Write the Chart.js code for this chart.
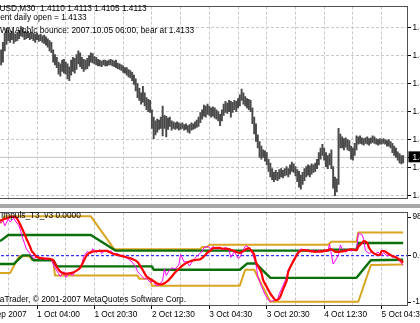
<!DOCTYPE html>
<html>
<head>
<meta charset="utf-8">
<script src="https://cdn.jsdelivr.net/npm/chart.js@4/dist/chart.umd.min.js"></script>
<style>
  body { margin: 0; background: #fff; }
  #wrap { position: absolute; left: 0; top: 0; width: 420px; height: 323px; overflow: hidden; background: #fff; }
  .box { position: absolute; }
  .txt { position: absolute; white-space: pre; font: 8.3px 'Liberation Sans', Arial, sans-serif; line-height: 10px; color: #000; z-index: 5; }
</style>
</head>
<body>
<div id="wrap">
  <div class="box" style="left:-24px; top:0; width:476px; height:206px"><canvas id="priceChart"></canvas></div>
  <div class="box" style="left:0; top:204px; width:420px; height:4px; background:#a8a8a8"></div>
  <div class="box" style="left:-24px; top:206px; width:476px; height:117px"><canvas id="indChart"></canvas></div>

  <div class="txt" style="left:-18px; top:3px">EURUSD,M30  1.4110 1.4113 1.4105 1.4113</div>
  <div class="txt" style="left:-16px; top:12px">Current daily open = 1.4133</div>
  <div class="txt" style="left:0; top:25px">WMA ohlc bounce: 2007.10.05 06:00, bear at 1.4133</div>
  <div class="txt" style="left:1px; top:210px">Impuls_T3_v3 0.0000</div>
  <div class="txt" style="left:-14px; top:294px">MetaTrader, © 2001-2007 MetaQuotes Software Corp.</div>
</div>

<script>
// EURUSD M30, один бар = 30 минут, индекс бара идёт слева направо
const barHigh = [
  1.4226, 1.4234, 1.4244, 1.4249, 1.4247, 1.4244, 1.4246, 1.4244, 1.4243, 1.4245,
  1.4247, 1.4251, 1.4250, 1.4246, 1.4245, 1.4246, 1.4244, 1.4245, 1.4244, 1.4243,
  1.4244, 1.4242, 1.4243, 1.4241, 1.4242, 1.4240, 1.4238, 1.4236, 1.4234, 1.4226,
  1.4221, 1.4218, 1.4213, 1.4211, 1.4215, 1.4216, 1.4213, 1.4211, 1.4208, 1.4215,
  1.4218, 1.4217, 1.4221, 1.4225, 1.4223, 1.4218, 1.4216, 1.4215, 1.4217, 1.4220,
  1.4223, 1.4222, 1.4219, 1.4218, 1.4216, 1.4215, 1.4214, 1.4215, 1.4215, 1.4214,
  1.4215, 1.4216, 1.4215, 1.4214, 1.4215, 1.4212, 1.4211, 1.4210, 1.4209, 1.4207,
  1.4207, 1.4205, 1.4204, 1.4202, 1.4199, 1.4195, 1.4190, 1.4185, 1.4180, 1.4187,
  1.4180, 1.4175, 1.4173, 1.4172, 1.4162, 1.4154, 1.4150, 1.4152, 1.4151, 1.4154,
  1.4166, 1.4156, 1.4155, 1.4153, 1.4154, 1.4150, 1.4149, 1.4148, 1.4149, 1.4148,
  1.4147, 1.4148, 1.4146, 1.4147, 1.4145, 1.4146, 1.4148, 1.4147, 1.4149, 1.4151,
  1.4154, 1.4159, 1.4162, 1.4167, 1.4166, 1.4168, 1.4166, 1.4164, 1.4165, 1.4164,
  1.4162, 1.4160, 1.4157, 1.4162, 1.4168, 1.4171, 1.4169, 1.4172, 1.4171, 1.4170,
  1.4172, 1.4171, 1.4174, 1.4178, 1.4184, 1.4180, 1.4176, 1.4174, 1.4173, 1.4172,
  1.4164, 1.4154, 1.4147, 1.4135, 1.4128, 1.4123, 1.4119, 1.4118, 1.4116, 1.4109,
  1.4105, 1.4099, 1.4095, 1.4097, 1.4095, 1.4098, 1.4099, 1.4097, 1.4099, 1.4101,
  1.4099, 1.4103, 1.4106, 1.4104, 1.4101, 1.4098, 1.4096, 1.4092, 1.4095, 1.4099,
  1.4101, 1.4103, 1.4102, 1.4104, 1.4103, 1.4105, 1.4109, 1.4116, 1.4121, 1.4125,
  1.4121, 1.4116, 1.4113, 1.4115, 1.4119, 1.4101, 1.4090, 1.4088, 1.4142, 1.4136,
  1.4133, 1.4131, 1.4132, 1.4130, 1.4129, 1.4123, 1.4121, 1.4126, 1.4134, 1.4133,
  1.4134, 1.4132, 1.4131, 1.4132, 1.4133, 1.4131, 1.4132, 1.4134, 1.4133, 1.4131,
  1.4130, 1.4131, 1.4130, 1.4131, 1.4130, 1.4129, 1.4130, 1.4128, 1.4126, 1.4123,
  1.4121, 1.4117, 1.4115, 1.4113, 1.4113
];
const barLow = [
  1.4210, 1.4213, 1.4225, 1.4232, 1.4236, 1.4234, 1.4237, 1.4233, 1.4235, 1.4236,
  1.4238, 1.4241, 1.4240, 1.4237, 1.4238, 1.4239, 1.4237, 1.4238, 1.4236, 1.4234,
  1.4237, 1.4235, 1.4236, 1.4234, 1.4233, 1.4231, 1.4229, 1.4225, 1.4223, 1.4213,
  1.4210, 1.4207, 1.4200, 1.4198, 1.4203, 1.4201, 1.4200, 1.4195, 1.4193, 1.4199,
  1.4203, 1.4201, 1.4205, 1.4211, 1.4208, 1.4206, 1.4203, 1.4205, 1.4206, 1.4209,
  1.4213, 1.4212, 1.4211, 1.4210, 1.4209, 1.4209, 1.4208, 1.4210, 1.4209, 1.4209,
  1.4210, 1.4210, 1.4209, 1.4208, 1.4207, 1.4206, 1.4205, 1.4204, 1.4202, 1.4201,
  1.4199, 1.4197, 1.4196, 1.4193, 1.4189, 1.4182, 1.4175, 1.4172, 1.4168, 1.4170,
  1.4166, 1.4162, 1.4160, 1.4159, 1.4142, 1.4131, 1.4135, 1.4138, 1.4141, 1.4142,
  1.4134, 1.4142, 1.4133, 1.4141, 1.4144, 1.4140, 1.4142, 1.4141, 1.4142, 1.4140,
  1.4141, 1.4142, 1.4140, 1.4141, 1.4138, 1.4137, 1.4140, 1.4141, 1.4142, 1.4143,
  1.4144, 1.4148, 1.4152, 1.4155, 1.4154, 1.4157, 1.4156, 1.4154, 1.4155, 1.4153,
  1.4152, 1.4150, 1.4145, 1.4150, 1.4156, 1.4159, 1.4158, 1.4160, 1.4154, 1.4159,
  1.4162, 1.4160, 1.4164, 1.4166, 1.4172, 1.4168, 1.4166, 1.4164, 1.4162, 1.4160,
  1.4147, 1.4136, 1.4128, 1.4121, 1.4111, 1.4109, 1.4111, 1.4107, 1.4103, 1.4096,
  1.4090, 1.4087, 1.4085, 1.4087, 1.4086, 1.4088, 1.4090, 1.4089, 1.4091, 1.4092,
  1.4090, 1.4093, 1.4096, 1.4095, 1.4091, 1.4085, 1.4079, 1.4077, 1.4082, 1.4086,
  1.4090, 1.4092, 1.4090, 1.4093, 1.4095, 1.4096, 1.4099, 1.4103, 1.4109, 1.4113,
  1.4108, 1.4101, 1.4099, 1.4103, 1.4099, 1.4078, 1.4070, 1.4074, 1.4082, 1.4121,
  1.4121, 1.4119, 1.4122, 1.4119, 1.4118, 1.4109, 1.4108, 1.4113, 1.4119, 1.4125,
  1.4126, 1.4125, 1.4124, 1.4126, 1.4125, 1.4124, 1.4126, 1.4127, 1.4126, 1.4125,
  1.4124, 1.4125, 1.4125, 1.4126, 1.4125, 1.4123, 1.4123, 1.4121, 1.4116, 1.4113,
  1.4111, 1.4108, 1.4105, 1.4104, 1.4105
];
const bidPrice = 1.4111;

// шкала цены справа (подписи обрезаны краем окна)
const priceTicks = [1.4070, 1.4100, 1.4130, 1.4160, 1.4190, 1.4220, 1.4250, bidPrice];

// подписи времени и вертикальная сетка (каждые 16 баров)
const timeLabels = ['28 Sep 2007', '1 Oct 04:00', '1 Oct 20:30', '2 Oct 12:30', '3 Oct 04:30', '3 Oct 20:30', '4 Oct 12:30', '5 Oct 04:30'];
const labelBars = [-12, 20, 52, 84, 116, 148, 180, 212];
const gridBars = [-12, 4, 20, 36, 52, 68, 84, 100, 116, 132, 148, 164, 180, 196, 212];

// индикатор Impuls_T3_v3: [бар, значение]
const orangeUpper = [[-2, 78], [0, 76], [1, 83], [2, 90], [50, 90], [63, 15], [111, 15], [112, 20], [115, 20], [116, 25], [182, 25], [184, 32], [198, 32], [199, 53], [224, 53]];
const greenUpper = [[-2, 33], [0, 35], [4, 47.5], [50, 47.5], [63, 13.7], [64, 11.6], [182, 11.6], [183, 14], [198, 14], [199, 29], [224, 29]];
const greenLower = [[-2, -19], [7, -19], [12, 0.7], [16, 0.7], [18, -10.2], [29, -10.2], [31, -24.4], [84, -24.4], [85, -32], [133, -32], [137, -17.9], [142, -17.9], [150, -50.6], [198, -50.6], [206, -10.2], [224, -9.2]];
const orangeLower = [[-2, -39.7], [5, -39.7], [10, -1.5], [16, -1.5], [17, -9.2], [29, -9.2], [30, -45.1], [76, -45.1], [77, -52.8], [83, -52.8], [84, -68.5], [133, -68.5], [136, -32], [141, -32], [150, -105.1], [199, -105.1], [206, -21.1], [224, -20.1]];
const t3Line = [
  [-1, 80], [3, 85], [6, 89.5], [8, 88], [9, 84], [11, 68], [13, 50], [14, 40], [16, 22], [17, 11], [18, 6], [20, -3],
  [23, -5.9], [27, -7], [29, -10.2], [31, -25.5], [33, -36.4], [35, -40.8], [37, -40.8], [40, -38.6], [42, -34.2], [44, -27.7],
  [46, -12.4], [48, 2.8], [51, 9.4], [55, 10.9], [59, 10.9], [62, 5], [65, 1.7], [68, -1.5], [71, -4.8], [74, -9.2],
  [76, -14.6], [78, -26.6], [79, -33.1], [81, -47.3], [83, -52.8], [85, -58.2], [87, -63.7], [89, -65.8], [91, -63],
  [93, -57], [95, -48], [97, -38], [99, -30], [101, -22.5], [103, -17], [105, -13], [107, -10.5], [109, -9.2], [111, -8],
  [113, -1.5], [115, 7.2], [117, 12.6], [118, 17], [121, 18.1], [122, 17], [124, 15.9], [126, 15.9], [128, 13.7], [130, 10.5],
  [132, 7.2], [133, 6.1], [135, 10.9], [137, 15.9], [138, 17.4], [139, 13.7], [141, 2.8], [142, -14.6], [145, -38.6],
  [146, -56], [148, -71.3], [150, -86.5], [152, -97.4], [153, -101.8], [155, -97.4], [157, -77.8], [159, -58.2], [160, -36.4],
  [162, -19], [164, -3.7], [166, 8.3], [168, 12.6], [171, 11.6], [174, 9.4], [178, 9.4], [181, 11.6], [184, 14.8], [186, 9.4],
  [189, 9.4], [192, 11.6], [195, 14.8], [198, 12.6], [199, 20.3], [201, 29], [202, 33.4], [204, 29], [205, 18.1], [207, 7.2],
  [209, 2.8], [211, 1.7], [212, 10.5], [214, 9.4], [216, 3.9], [218, -0.4], [220, -3.7], [222, -9.2], [224, -15.7]
];
const rawLine = [
  [-1, 72.6], [1, 81.3], [2, 68.2], [4, 83.5], [5, 77], [7, 85.7], [8, 79.1], [10, 68.2], [11, 55.2], [12, 39.9],
  [13, 29], [14, 15.9], [16, 5], [17, -1.5], [18, -5.9], [20, -3.7], [22, -8.1], [23, -4.8], [25, -9.2], [27, -5.9],
  [28, -10.2], [30, -27.7], [32, -40.8], [33, -47.3], [35, -36.4], [36, -49.5], [38, -40.8], [40, -45.1], [41, -36.4],
  [43, -32], [45, -19], [46, -1.5], [48, 9.4], [50, 5], [51, 15.9], [53, 7.2], [55, 13.7], [56, 5], [58, 12.6], [60, 7.2],
  [61, 11.6], [63, 2.8], [65, 5], [66, -1.5], [68, 1.7], [70, -5.9], [71, -8.1], [73, -14.6], [75, -25.5], [76, -36.4],
  [78, -45.1], [80, -53.8], [81, -51.7], [83, -60.4], [85, -58.2], [86, -66.9], [88, -68], [90, -56], [91, -29.9],
  [92, -45.1], [94, -32], [95, -27.7], [97, -29.9], [99, -21.1], [100, 2.8], [102, -14.6], [103, -12.4], [105, -23.3],
  [107, -10.2], [108, -5.9], [110, 2.8], [112, 9.4], [113, 18.1], [115, 21.4], [117, 15.9], [118, 21.4], [120, 14.8],
  [122, 20.3], [123, 13.7], [125, 19.2], [127, 12.6], [128, -3.7], [130, 9.4], [132, -5.9], [133, -3.7], [135, 13.7],
  [136, 21.4], [137, 22.5], [138, 18.1], [140, 5], [142, -19], [143, -47.3], [145, -69.1], [147, -88.7], [149, -101.8],
  [150, -104], [152, -102.9], [154, -99.6], [155, -86.5], [157, -69.1], [159, -49.5], [160, -32], [162, -16.8], [164, -1.5],
  [165, 7.2], [167, 15.9], [169, 11.6], [170, 14.8], [172, 8.3], [174, 13.7], [175, 7.2], [177, 12.6], [179, 8.3],
  [180, 13.7], [182, 9.4], [183, 26.8], [184, 2.8], [185, -19], [187, -5.9], [188, 2.8], [189, 24.6], [190, 15.9],
  [192, 8.3], [194, 13.7], [195, 10.5], [197, 14.8], [198, 11.6], [199, 50.8], [201, 48.6], [202, 37.7], [203, 11.6],
  [205, 5], [207, 9.4], [208, 2.8], [210, 8.3], [212, 0.7], [213, 7.2], [215, -0.4], [217, 1.7], [218, -3.7], [220, -1.5],
  [222, -12.4], [223, -16.8], [224, -21.1]
];
const indTicks = [88, 0, -106];
const indTickText = ['98.8053', '0.0000', '-114.9163'];

// общая горизонтальная шкала для двух окон
const xMin = -14;
const xMax = 226.7;
const priceMin = 1.406586;
const priceMax = 1.42725;
const indMin = -114.9;
const indMax = 98.8;

Chart.defaults.font.family = "'Liberation Sans', Arial, sans-serif";
Chart.defaults.font.size = 8.3;
Chart.defaults.color = '#000';

const gridGray = '#c8c8c8';

// рамка окна графика как в терминале
const framePlugin = {
  id: 'frame',
  afterDraw(chart) {
    const { ctx, chartArea: a } = chart;
    ctx.save();
    ctx.strokeStyle = '#505050';
    ctx.lineWidth = 1;
    ctx.strokeRect(Math.round(a.left) + 0.5, Math.round(a.top) + 0.5,
      Math.round(a.right - a.left) - 1, Math.round(a.bottom - a.top) - 1);
    ctx.restore();
  }
};

function toXY(pairs) {
  return pairs.map(p => ({ x: p[0], y: p[1] }));
}

function timeAxis(showLabels) {
  return {
    type: 'linear',
    min: xMin,
    max: xMax,
    offset: false,
    afterBuildTicks: s => { s.ticks = gridBars.map(v => ({ value: v })); },
    afterFit: s => { s.height = showLabels ? 17 : 0; },
    ticks: {
      display: showLabels,
      autoSkip: false,
      maxRotation: 0,
      align: 'start',
      padding: 1,
      callback: v => {
        const k = labelBars.indexOf(v);
        return k >= 0 ? timeLabels[k] : '';
      }
    },
    grid: {
      color: gridGray,
      offset: false,
      drawTicks: showLabels,
      tickLength: 3,
      tickColor: c => (c.tick && labelBars.includes(c.tick.value)) ? '#000' : 'rgba(0,0,0,0)'
    },
    border: { display: false, dash: [3, 2] }
  };
}

// верхнее окно: бары цены
new Chart(document.getElementById('priceChart'), {
  type: 'bar',
  data: {
    datasets: [
      {
        type: 'bar',
        data: barHigh.map((h, i) => ({ x: i, y: [barLow[i], h] })),
        backgroundColor: '#4a4a4a',
        barThickness: 1.3,
        grouped: false,
        order: 1
      },
      {
        type: 'line',
        data: [{ x: xMin, y: bidPrice }, { x: xMax, y: bidPrice }],
        borderColor: '#c4c4c4',
        borderWidth: 1,
        pointRadius: 0,
        order: 2
      }
    ]
  },
  options: {
    responsive: true,
    maintainAspectRatio: false,
    animation: false,
    devicePixelRatio: 1,
    layout: { padding: { top: 2, bottom: 2, left: 0, right: 0 } },
    plugins: { legend: { display: false }, tooltip: { enabled: false } },
    scales: {
      x: timeAxis(false),
      y: {
        type: 'linear',
        position: 'right',
        min: priceMin,
        max: priceMax,
        beginAtZero: false,
        afterBuildTicks: s => { s.ticks = priceTicks.map(v => ({ value: v })); },
        afterFit: s => { s.width = 44; },
        ticks: {
          padding: 1.5,
          callback: v => v.toFixed(4),
          color: c => (c.tick && c.tick.value === bidPrice) ? '#fff' : '#000',
          showLabelBackdrop: true,
          backdropColor: c => (c.tick && c.tick.value === bidPrice) ? '#000' : 'rgba(0,0,0,0)',
          backdropPadding: { top: 1, bottom: 0, left: 4, right: 4 }
        },
        grid: {
          color: c => (c.tick && c.tick.value === bidPrice) ? 'rgba(0,0,0,0)' : gridGray,
          tickLength: 3,
          tickColor: '#000'
        },
        border: { display: false, dash: [3, 2] }
      }
    }
  },
  plugins: [framePlugin]
});

// нижнее окно: индикатор
new Chart(document.getElementById('indChart'), {
  type: 'line',
  data: {
    datasets: [
      { data: [{ x: xMin, y: 0 }, { x: xMax, y: 0 }], borderColor: '#0000ff', borderWidth: 1, borderDash: [3, 2], order: 6 },
      { data: toXY(orangeUpper), borderColor: '#daa520', borderWidth: 2, order: 5 },
      { data: toXY(orangeLower), borderColor: '#daa520', borderWidth: 2, order: 5 },
      { data: toXY(greenUpper), borderColor: '#0a700a', borderWidth: 2.4, order: 4 },
      { data: toXY(greenLower), borderColor: '#0a700a', borderWidth: 2.4, order: 4 },
      { data: toXY(rawLine), borderColor: '#ff00ff', borderWidth: 1, order: 3 },
      { data: toXY(t3Line), borderColor: '#ff0000', borderWidth: 2.2, tension: 0.3, order: 2 }
    ]
  },
  options: {
    responsive: true,
    maintainAspectRatio: false,
    animation: false,
    devicePixelRatio: 1,
    layout: { padding: { top: 2, bottom: 0, left: 0, right: 0 } },
    elements: { point: { radius: 0 }, line: { borderJoinStyle: 'round' } },
    plugins: { legend: { display: false }, tooltip: { enabled: false } },
    scales: {
      x: timeAxis(true),
      y: {
        type: 'linear',
        position: 'right',
        min: indMin,
        max: indMax,
        afterBuildTicks: s => { s.ticks = indTicks.map(v => ({ value: v })); },
        afterFit: s => { s.width = 44; },
        ticks: {
          padding: 1.5,
          callback: (v, i) => indTickText[i]
        },
        grid: { drawOnChartArea: false, tickLength: 3, tickColor: '#000' },
        border: { display: false }
      }
    }
  },
  plugins: [framePlugin]
});
</script>
</body>
</html>
